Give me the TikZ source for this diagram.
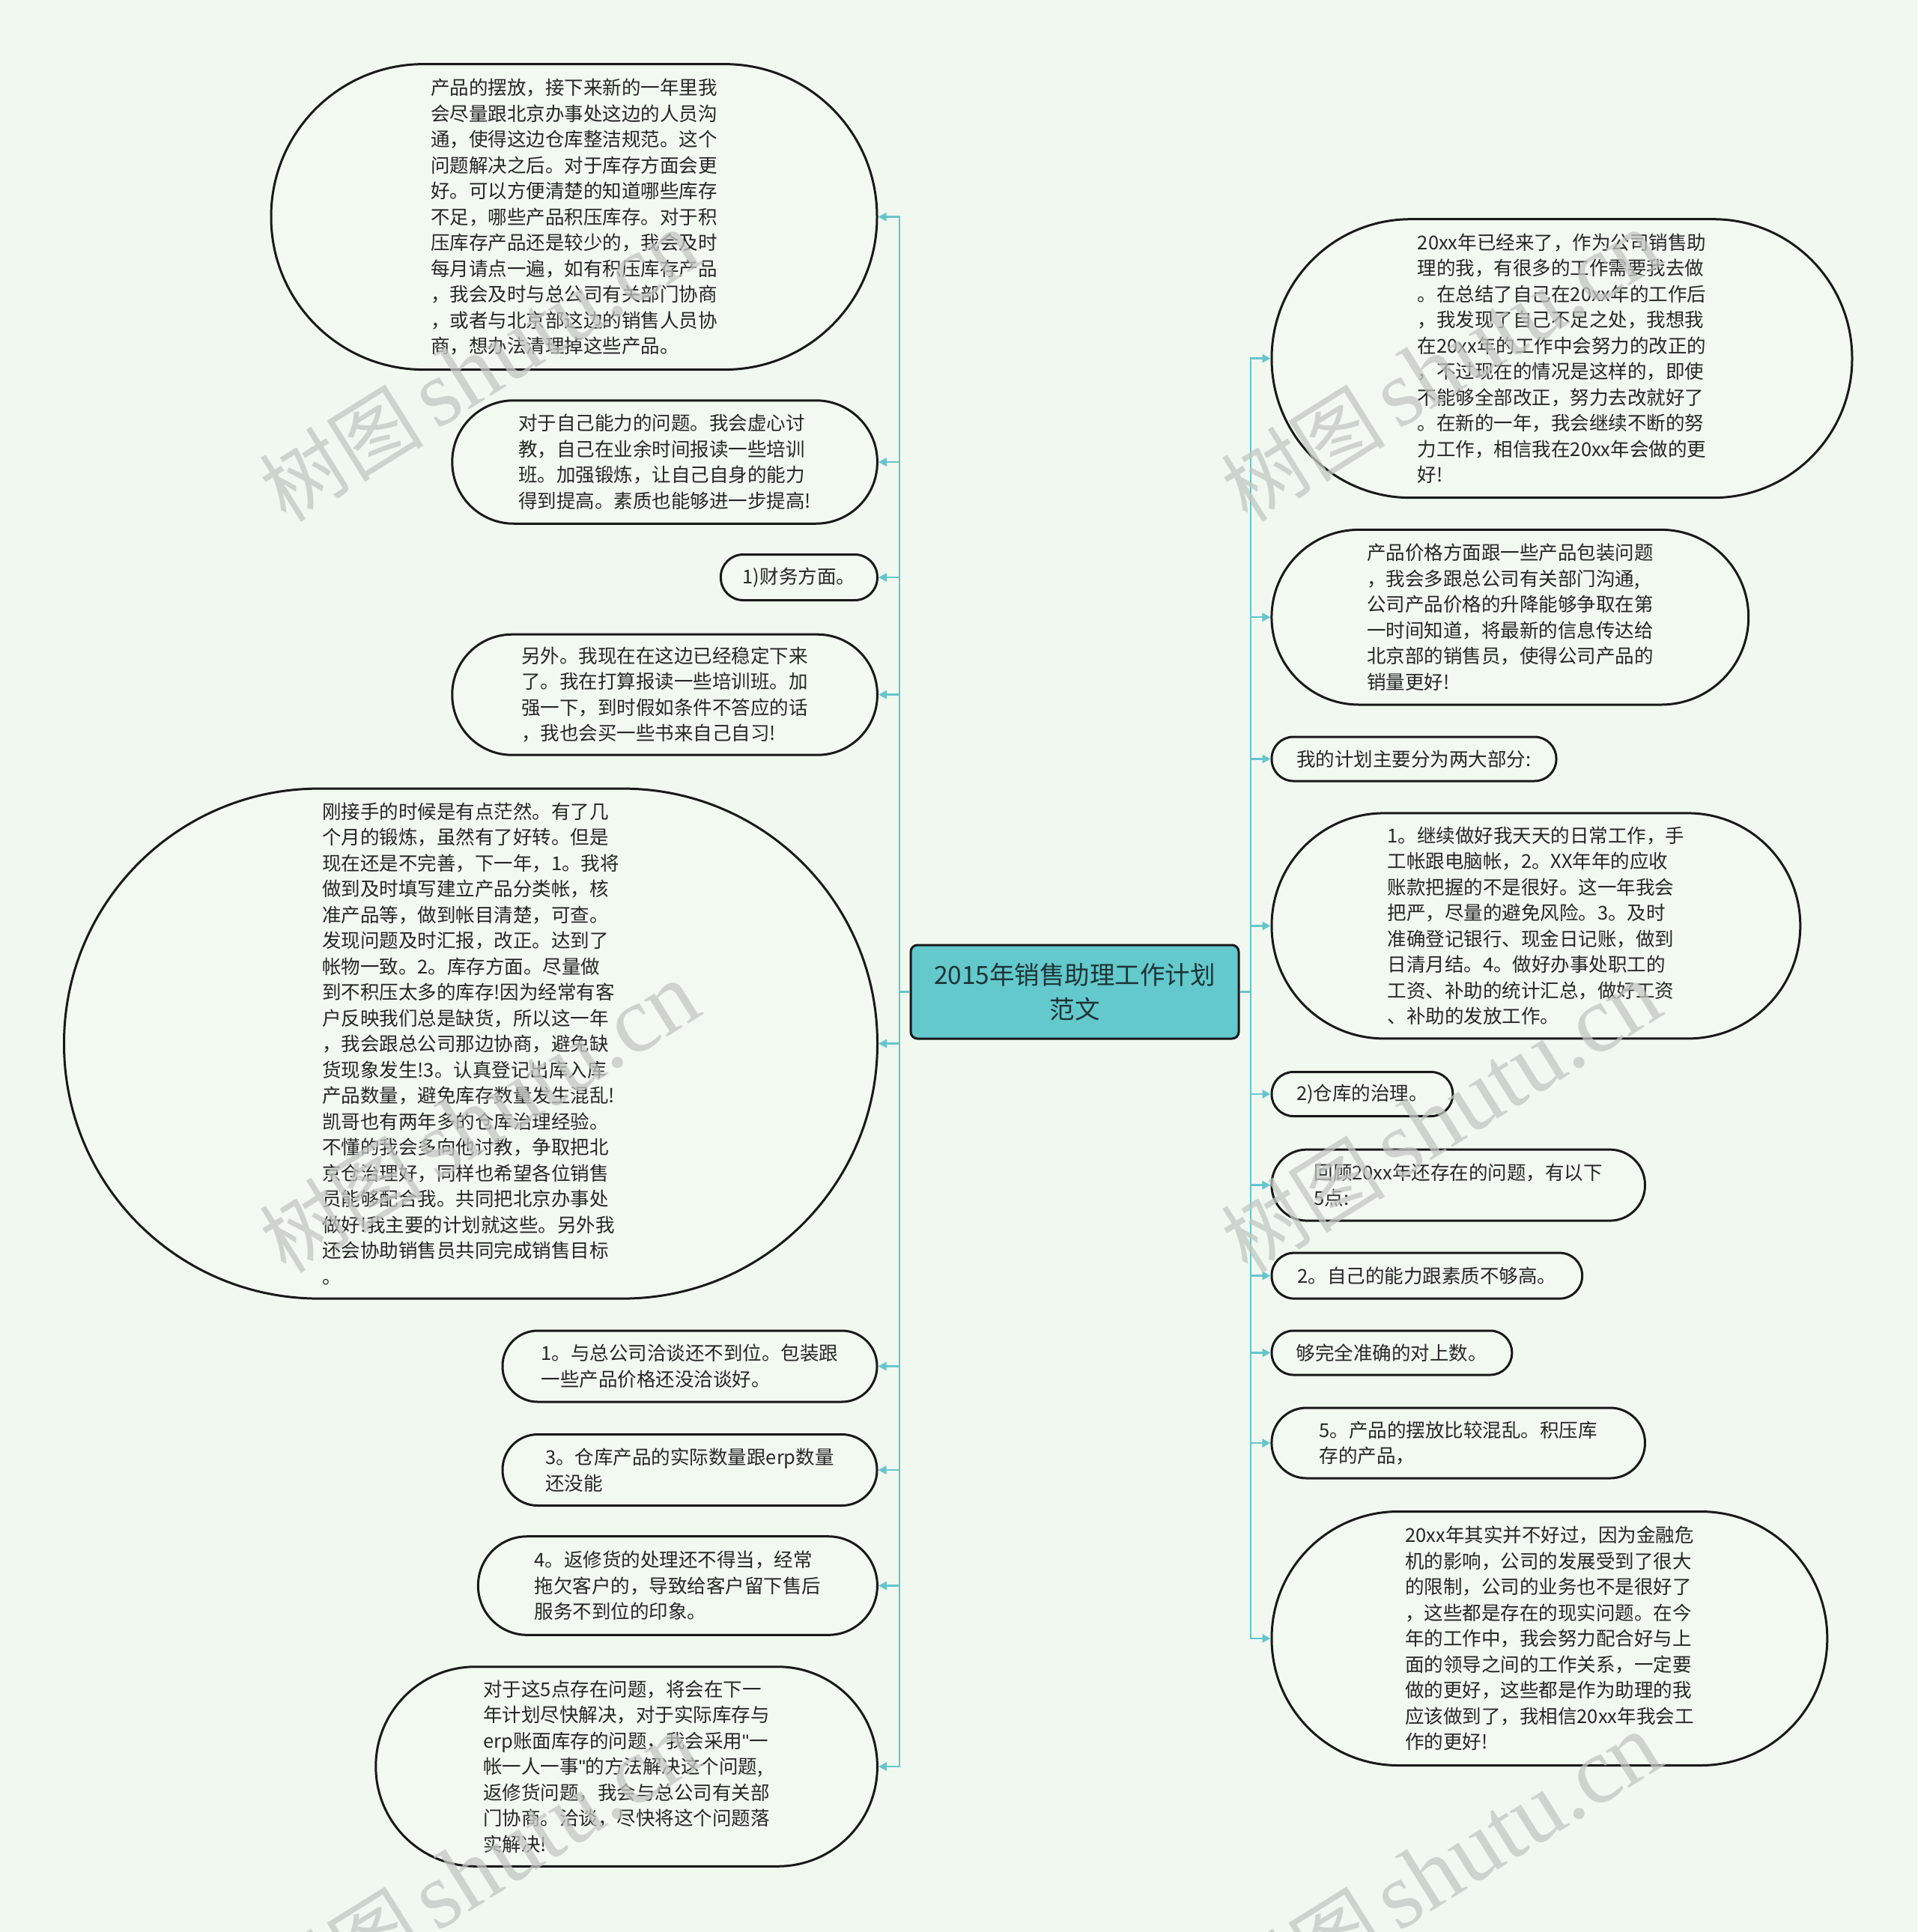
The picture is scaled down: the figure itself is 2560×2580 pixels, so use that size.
\documentclass[tikz,border=0pt]{standalone}
\usepackage{fontspec}
\setmainfont{Noto Sans CJK SC}
\newfontfamily\wmlat{Liberation Serif}
\newfontfamily\wmcjk{Noto Sans CJK SC}
\newfontfamily\qfont{Liberation Sans}
\usetikzlibrary{arrows.meta}
\definecolor{bgc}{HTML}{F0F8EF}
\definecolor{nodefill}{HTML}{F2F9F1}
\definecolor{linec}{HTML}{66C5CC}
\definecolor{rootc}{HTML}{63C9CD}
\definecolor{wmc}{HTML}{C2C7C2}
\definecolor{roottext}{HTML}{1E3434}
\tikzset{
 leaf/.style={draw=black!90, line width=3pt, fill=nodefill, inner sep=0pt, align=left,
   font=\fontsize{25.5}{34.5}\selectfont, text=black!85},
 rootbox/.style={draw=black!90, line width=3pt, fill=rootc, rounded corners=9pt, align=center,
   font=\fontsize{33.5}{46}\selectfont, text=roottext, minimum width=438pt, minimum height=125pt, inner sep=0pt},
 conn/.style={draw=linec, line width=2.5pt, -{Triangle[length=11pt,width=11pt]}},
 wm/.style={text=wmc, rotate=32, anchor=base west, opacity=0.75, inner sep=0pt}
}
\newcommand{\wmtext}{{\wmcjk\fontsize{110}{110}\selectfont 树图}\hspace{17pt}{\wmlat\fontsize{126}{126}\selectfont shutu.cn}}
\newcommand{\dq}{{\qfont\char"0022}}
\begin{document}
\begin{tikzpicture}[x=1pt,y=-1pt]
\useasboundingbox (0,0) rectangle (2560,2580);
\fill[bgc] (0,0) rectangle (2560,2580);

% root
\node[rootbox] (root) at (1435,1324.5) {2015年销售助理工作计划\\范文};

% left column
\node[leaf, minimum width=809pt, minimum height=408pt, rounded corners=203.5pt] (L1) at (766.5,289.6) {产品的摆放，接下来新的一年里我\\会尽量跟北京办事处这边的人员沟\\通，使得这边仓库整洁规范。这个\\问题解决之后。对于库存方面会更\\好。可以方便清楚的知道哪些库存\\不足，哪些产品积压库存。对于积\\压库存产品还是较少的，我会及时\\每月请点一遍，如有积压库存产品\\，我会及时与总公司有关部门协商\\，或者与北京部这边的销售人员协\\商，想办法清理掉这些产品。};
\node[leaf, minimum width=567.6pt, minimum height=164.5pt, rounded corners=82pt] (L2) at (887.6,617) {对于自己能力的问题。我会虚心讨\\教，自己在业余时间报读一些培训\\班。加强锻炼，让自己自身的能力\\得到提高。素质也能够进一步提高!};
\node[leaf, minimum width=209pt, minimum height=61pt, rounded corners=30pt] (L3) at (1066.9,771) {1)财务方面。};
\node[leaf, minimum width=567.6pt, minimum height=161pt, rounded corners=80pt] (L4) at (887.6,927.7) {另外。我现在在这边已经稳定下来\\了。我在打算报读一些培训班。加\\强一下，到时假如条件不答应的话\\，我也会买一些书来自己自习!};
\node[leaf, minimum width=1086pt, minimum height=681pt, rounded corners=340pt] (L5) at (628.5,1393.6) {刚接手的时候是有点茫然。有了几\\个月的锻炼，虽然有了好转。但是\\现在还是不完善，下一年，1。我将\\做到及时填写建立产品分类帐，核\\准产品等，做到帐目清楚，可查。\\发现问题及时汇报，改正。达到了\\帐物一致。2。库存方面。尽量做\\到不积压太多的库存!因为经常有客\\户反映我们总是缺货，所以这一年\\，我会跟总公司那边协商，避免缺\\货现象发生!3。认真登记出库入库\\产品数量，避免库存数量发生混乱!\\凯哥也有两年多的仓库治理经验。\\不懂的我会多向他讨教，争取把北\\京仓治理好，同样也希望各位销售\\员能够配合我。共同把北京办事处\\做好!我主要的计划就这些。另外我\\还会协助销售员共同完成销售目标\\。};
\node[leaf, minimum width=500pt, minimum height=95pt, rounded corners=47pt] (L6) at (921,1824.5) {1。与总公司洽谈还不到位。包装跟\\一些产品价格还没洽谈好。};
\node[leaf, minimum width=500pt, minimum height=95pt, rounded corners=47pt] (L7) at (921,1963) {3。仓库产品的实际数量跟erp数量\\还没能};
\node[leaf, minimum width=533pt, minimum height=131.6pt, rounded corners=65.5pt] (L8) at (904.9,2117.5) {4。返修货的处理还不得当，经常\\拖欠客户的，导致给客户留下售后\\服务不到位的印象。};
\node[leaf, minimum width=669.6pt, minimum height=266.5pt, rounded corners=133pt] (L9) at (836.6,2359) {对于这5点存在问题，将会在下一\\年计划尽快解决，对于实际库存与\\erp账面库存的问题，我会采用\dq 一\\帐一人一事\dq 的方法解决这个问题,\\返修货问题，我会与总公司有关部\\门协商。洽谈，尽快将这个问题落\\实解决!};

% right column
\node[leaf, minimum width=775pt, minimum height=372pt, rounded corners=185.5pt] (R1) at (2085.5,478.7) {20xx年已经来了，作为公司销售助\\理的我，有很多的工作需要我去做\\。在总结了自己在20xx年的工作后\\，我发现了自己不足之处，我想我\\在20xx年的工作中会努力的改正的\\，不过现在的情况是这样的，即使\\不能够全部改正，努力去改就好了\\。在新的一年，我会继续不断的努\\力工作，相信我在20xx年会做的更\\好!};
\node[leaf, minimum width=636.7pt, minimum height=233.6pt, rounded corners=116.5pt] (R2) at (2016.3,824.2) {产品价格方面跟一些产品包装问题\\，我会多跟总公司有关部门沟通,\\公司产品价格的升降能够争取在第\\一时间知道，将最新的信息传达给\\北京部的销售员，使得公司产品的\\销量更好!};
\node[leaf, minimum width=380pt, minimum height=59pt, rounded corners=29pt] (R3) at (1888,1013.5) {我的计划主要分为两大部分:};
\node[leaf, minimum width=705.8pt, minimum height=301pt, rounded corners=150pt] (R4) at (2050.9,1236.4) {1。继续做好我天天的日常工作，手\\工帐跟电脑帐，2。XX年年的应收\\账款把握的不是很好。这一年我会\\把严，尽量的避免风险。3。及时\\准确登记银行、现金日记账，做到\\日清月结。4。做好办事处职工的\\工资、补助的统计汇总，做好工资\\、补助的发放工作。};
\node[leaf, minimum width=241.8pt, minimum height=59pt, rounded corners=29pt] (R5) at (1818.9,1461) {2)仓库的治理。};
\node[leaf, minimum width=498.5pt, minimum height=95pt, rounded corners=47pt] (R6) at (1947.2,1582.6) {回顾20xx年还存在的问题，有以下\\5点:};
\node[leaf, minimum width=414.6pt, minimum height=61pt, rounded corners=30pt] (R7) at (1905.3,1703.6) {2。自己的能力跟素质不够高。};
\node[leaf, minimum width=320.8pt, minimum height=59pt, rounded corners=29pt] (R8) at (1858.4,1806.5) {够完全准确的对上数。};
\node[leaf, minimum width=498.5pt, minimum height=94pt, rounded corners=46.5pt] (R9) at (1947.2,1927) {5。产品的摆放比较混乱。积压库\\存的产品，};
\node[leaf, minimum width=741.8pt, minimum height=339pt, rounded corners=169pt] (R10) at (2068.9,2188) {20xx年其实并不好过，因为金融危\\机的影响，公司的发展受到了很大\\的限制，公司的业务也不是很好了\\，这些都是存在的现实问题。在今\\年的工作中，我会努力配合好与上\\面的领导之间的工作关系，一定要\\做的更好，这些都是作为助理的我\\应该做到了，我相信20xx年我会工\\作的更好!};

% trunks
\coordinate (LT) at (1201,1324.5);
\coordinate (RT) at (1670,1324.5);
\foreach \n in {L1,L2,L3,L4,L5,L6,L7,L8,L9}
  \draw[conn] (root.west) -- (LT) |- (\n.east);
\foreach \n in {R1,R2,R3,R4,R5,R6,R7,R8,R9,R10}
  \draw[conn] (root.east) -- (RT) |- (\n.west);

% watermarks
\foreach \wx in {382,1666}
  \foreach \wy in {700,1703,2706}
    \node[wm] (wm-\wx-\wy) at (\wx,\wy) {\wmtext};
\end{tikzpicture}
\end{document}
